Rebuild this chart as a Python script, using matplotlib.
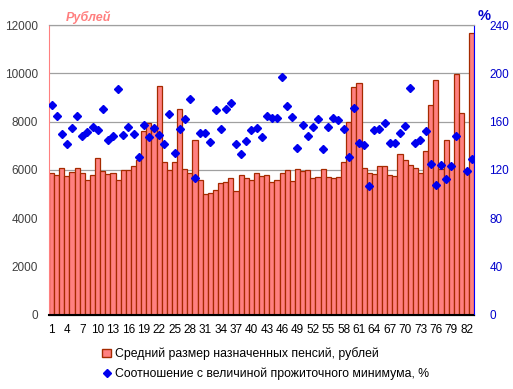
import numpy as np
import matplotlib.pyplot as plt
from matplotlib.lines import Line2D
from matplotlib.patches import Patch

plt.rcParams['font.family'] = ['Liberation Sans', 'DejaVu Sans']

# average pension per region, rubles (83 regions)
pension = [
    5860, 5777, 6067, 5735, 5901, 6067, 5860, 5569, 5777, 6482,
    5943, 5830, 5860, 5569, 5984, 6010, 6150, 6412, 7602, 7934,
    7780, 9470, 6316, 5984, 6316, 8515, 6025, 5860, 7229, 5569,
    4988, 5030, 5154, 5445, 5486, 5652, 5112, 5777, 5652, 5569,
    5860, 5735, 5777, 5486, 5569, 5860, 5984, 5527, 6025, 5943,
    5984, 5652, 5694, 6025, 5694, 5652, 5694, 6316, 7976, 9428,
    9594, 6067, 5860, 5818, 6150, 6150, 5777, 5735, 6648, 6399,
    6191, 6067, 5860, 6773, 8680, 9718, 6025, 7229, 6233, 9968,
    8349, 5860, 11670,
]
# ratio to subsistence minimum, % (no point for region 81)
ratio = [
    174.1, 164.7, 149.5, 141.5, 154.8, 164.7, 148.4, 151.7, 155.6, 152.9,
    170.5, 145.1, 148.1, 186.9, 148.7, 155.4, 149.8, 130.5, 157.3, 147.1,
    154.8, 149.2, 141.5, 166.6, 134.0, 154.2, 162.0, 178.6, 113.0, 150.4,
    150.4, 143.2, 169.5, 154.2, 170.8, 175.8, 141.2, 133.4, 144.0, 153.1,
    155.0, 147.1, 164.7, 162.8, 162.8, 197.3, 173.0, 163.9, 138.2, 157.0,
    147.9, 155.6, 162.2, 137.6, 155.6, 163.3, 161.4, 154.2, 131.0, 171.6,
    142.6, 140.4, 106.6, 152.9, 154.2, 159.2, 142.6, 142.1, 150.9, 156.7,
    187.7, 142.6, 144.8, 152.3, 124.6, 107.2, 124.1, 112.7, 123.5, 147.9,
    np.nan, 119.1, 129.0,
]
regions = np.arange(1, len(pension) + 1)
tick_regions = regions[::3]

fig = plt.figure(figsize=(5.13, 3.89), dpi=100)
ax = fig.add_axes([0.0955, 0.1915, 0.829, 0.7435])
ax2 = ax.twinx()

ax.bar(regions, pension, width=1.0, color='#ff8080', edgecolor='#a52a00',
       linewidth=0.9, zorder=2)
ax.set_xlim(0.5, len(pension) + 0.5)
ax.set_ylim(0, 12000)
ax.set_yticks(np.arange(0, 12001, 2000))
ax.set_xticks(tick_regions)
ax.yaxis.grid(True, color='#a0a0a0', linewidth=0.9, zorder=0)
ax.set_axisbelow(True)

ax2.plot(regions, ratio, linestyle='none', marker='D', markersize=4.3,
         color='#0000ee', zorder=3)
ax2.set_ylim(0, 240)
ax2.set_yticks(np.arange(0, 241, 40))

ax.spines['top'].set_color('#a0a0a0')
ax2.spines['top'].set_color('#a0a0a0')
ax.spines['left'].set_color('#ff8080')
ax2.spines['left'].set_visible(False)
ax2.spines['right'].set_color('#0000ff')
ax.spines['right'].set_visible(False)
ax.spines['bottom'].set_color('black')
ax.spines['bottom'].set_linewidth(1.5)

ax.tick_params(axis='y', length=0, labelsize=8.5, colors='#404040', pad=8)
ax.tick_params(axis='x', length=0, labelsize=8.5, colors='black', pad=7)
ax2.tick_params(axis='y', length=0, labelsize=8.5, colors='#0000cc', pad=11)

fig.text(0.128, 0.955, 'Рублей', color='#ff8080', fontsize=9,
         fontstyle='italic', fontweight='bold', ha='left', va='center')
fig.text(0.932, 0.958, '%', color='#0000cc', fontsize=10.5,
         fontweight='bold', ha='left', va='center')

handles = [
    Patch(facecolor='#ff8080', edgecolor='#a52a00',
          label='Средний размер назначенных пенсий, рублей'),
    Line2D([], [], linestyle='none', marker='D', markersize=4.3,
           color='#0000ee', label='Соотношение с величиной прожиточного минимума, %'),
]
fig.legend(handles=handles, loc='upper left', bbox_to_anchor=(0.19, 0.12),
           frameon=False, fontsize=8.8, handlelength=0.7, handletextpad=0.3,
           labelspacing=0.6, borderaxespad=0)

fig.savefig('out.png', dpi=100)
